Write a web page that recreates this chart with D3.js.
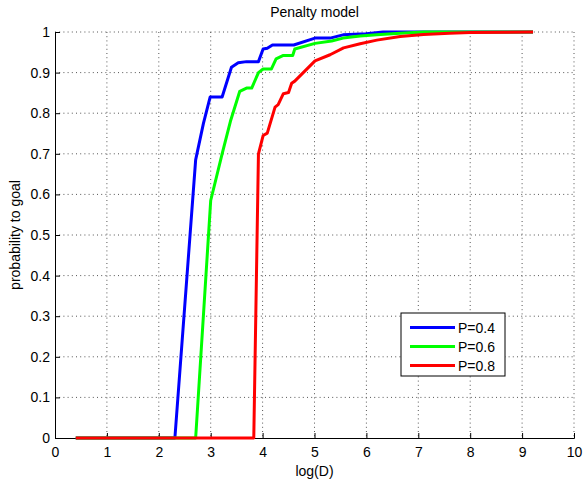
<!DOCTYPE html>
<html>
<head>
<meta charset="utf-8">
<script src="https://cdn.jsdelivr.net/npm/d3@7.8.5/dist/d3.min.js"></script>
<style>
  body { margin: 0; background: #fff; }
  text { font-family: "Liberation Sans", Arial, sans-serif; }
</style>
</head>
<body>
<svg id="chart" width="584" height="486"></svg>
<script>
const xTicks = [0, 1, 2, 3, 4, 5, 6, 7, 8, 9, 10];
const yTicks = [0, 0.1, 0.2, 0.3, 0.4, 0.5, 0.6, 0.7, 0.8, 0.9, 1];

const blueX = [0.4, 2.31, 2.71, 2.86, 2.99, 3.22, 3.40, 3.53, 3.69, 3.92, 4.01, 4.09, 4.19, 4.60, 5.01, 5.30, 5.55, 6.0, 6.32, 9.21];
const blueY = [0, 0, 0.685, 0.775, 0.84, 0.84, 0.913, 0.924, 0.927, 0.927, 0.958, 0.96, 0.968, 0.968, 0.985, 0.985, 0.993, 0.996, 1, 1];

const greenX = [0.4, 2.71, 3.0, 3.22, 3.38, 3.56, 3.69, 3.79, 3.92, 4.01, 4.17, 4.26, 4.39, 4.58, 4.62, 5.01, 5.33, 5.55, 5.88, 6.2, 6.65, 7.1, 9.21];
const greenY = [0, 0, 0.585, 0.70, 0.78, 0.854, 0.862, 0.862, 0.90, 0.909, 0.909, 0.934, 0.942, 0.942, 0.958, 0.972, 0.978, 0.985, 0.99, 0.993, 0.997, 1, 1];

const redX = [0.4, 3.83, 3.92, 4.01, 4.09, 4.24, 4.30, 4.40, 4.50, 4.56, 4.62, 5.01, 5.30, 5.56, 5.88, 6.2, 6.65, 7.1, 7.6, 8.0, 9.21];
const redY = [0, 0, 0.70, 0.745, 0.751, 0.815, 0.821, 0.848, 0.851, 0.874, 0.879, 0.929, 0.944, 0.961, 0.971, 0.980, 0.989, 0.994, 0.997, 0.999, 1];

const seriesNames = ['P=0.4', 'P=0.6', 'P=0.8'];
const seriesColors = ['#0000ff', '#00ff00', '#ff0000'];

const series = [
  { name: seriesNames[0], color: seriesColors[0], xs: blueX, ys: blueY },
  { name: seriesNames[1], color: seriesColors[1], xs: greenX, ys: greenY },
  { name: seriesNames[2], color: seriesColors[2], xs: redX, ys: redY }
];

const margin = { top: 32, left: 55 };
const innerW = 574 - margin.left;
const innerH = 438 - margin.top;
const fontSize = '14px';

const svg = d3.select('#chart');
const g = svg.append('g').attr('transform', `translate(${margin.left},${margin.top})`);

const x = d3.scaleLinear().domain([0, 10]).range([0, innerW]);
const y = d3.scaleLinear().domain([0, 1]).range([innerH, 0]);

// dotted grid
g.append('g').selectAll('line')
  .data(xTicks.slice(1))
  .enter().append('line')
  .attr('x1', d => x(d)).attr('x2', d => x(d))
  .attr('y1', 0).attr('y2', innerH)
  .attr('stroke', '#555').attr('stroke-width', 1)
  .attr('stroke-dasharray', '1,3.2');

g.append('g').selectAll('line')
  .data(yTicks.slice(1))
  .enter().append('line')
  .attr('x1', 0).attr('x2', innerW)
  .attr('y1', d => y(d)).attr('y2', d => y(d))
  .attr('stroke', '#555').attr('stroke-width', 1)
  .attr('stroke-dasharray', '1,3.2');

// axes, ticks pointing inward
const xAxis = d3.axisBottom(x).tickValues(xTicks).tickSize(-5).tickPadding(9).tickFormat(d3.format('d'));
const yAxis = d3.axisLeft(y).tickValues(yTicks).tickSize(-5).tickPadding(5)
  .tickFormat(d => d === 0 || d === 1 ? d : d3.format('.1f')(d));

const gx = g.append('g').attr('transform', `translate(0,${innerH})`).call(xAxis);
const gy = g.append('g').call(yAxis);
[gx, gy].forEach(a => {
  a.select('.domain').attr('stroke', '#000').attr('stroke-width', 1);
  a.selectAll('.tick line').attr('stroke', '#000');
  a.selectAll('.tick text').attr('fill', '#000')
    .style('font-size', fontSize)
    .style('font-family', '"Liberation Sans", Arial, sans-serif');
});

// lines
const line = d3.line().x(d => x(d[0])).y(d => y(d[1]));
series.forEach(s => {
  const pts = s.xs.map((v, i) => [v, s.ys[i]]);
  g.append('path')
    .datum(pts)
    .attr('d', line)
    .attr('fill', 'none')
    .attr('stroke', s.color)
    .attr('stroke-width', 3)
    .attr('stroke-linejoin', 'round');
});

// title and labels
svg.append('text')
  .attr('x', margin.left + innerW / 2).attr('y', 17)
  .attr('text-anchor', 'middle')
  .style('font-size', fontSize)
  .text('Penalty model');

svg.append('text')
  .attr('x', margin.left + innerW / 2).attr('y', 476)
  .attr('text-anchor', 'middle')
  .style('font-size', fontSize)
  .text('log(D)');

svg.append('text')
  .attr('transform', `translate(20,${margin.top + innerH / 2}) rotate(-90)`)
  .attr('text-anchor', 'middle')
  .style('font-size', fontSize)
  .text('probability to goal');

// legend
const legend = svg.append('g').attr('transform', 'translate(401,313)');
legend.append('rect')
  .attr('width', 104).attr('height', 63)
  .attr('fill', '#fff').attr('stroke', '#000').attr('stroke-width', 1);
series.forEach((s, i) => {
  const cy = 14.5 + i * 19;
  legend.append('line')
    .attr('x1', 9).attr('x2', 54)
    .attr('y1', cy).attr('y2', cy)
    .attr('stroke', s.color).attr('stroke-width', 3);
  legend.append('text')
    .attr('x', 57).attr('y', cy).attr('dy', '0.36em')
    .style('font-size', fontSize)
    .text(s.name);
});
</script>
</body>
</html>
